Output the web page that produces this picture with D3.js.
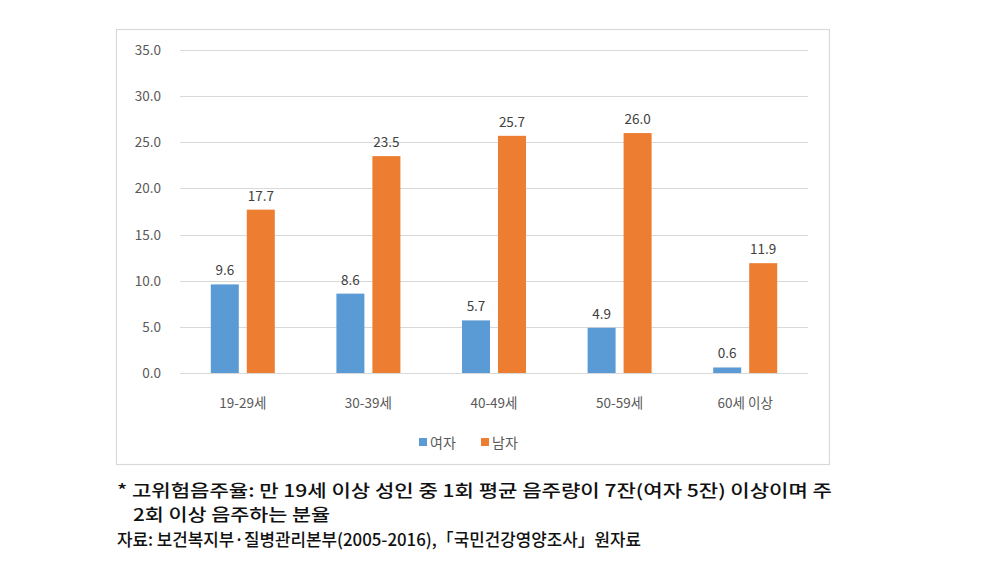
<!DOCTYPE html>
<html>
<head>
<meta charset="utf-8">
<script src="https://cdn.jsdelivr.net/npm/d3@7"></script>
<style>
  body { margin: 0; background: #fff; }
  svg text { font-family: "Noto Sans CJK KR", "Noto Sans", sans-serif; }
</style>
</head>
<body>
<svg id="chart" width="981" height="565"></svg>
<script>
// age groups and rates (%)
const ageGroups = ['19-29세', '30-39세', '40-49세', '50-59세', '60세 이상'];
const female = [9.6, 8.6, 5.7, 4.9, 0.6];
const male = [17.7, 23.5, 25.7, 26.0, 11.9];
const seriesNames = ['여자', '남자'];
const seriesColors = ['#5b9bd5', '#ed7d31'];
const yTicks = [0, 5, 10, 15, 20, 25, 30, 35];
const notes = [
  '* 고위험음주율: 만 19세 이상 성인 중 1회 평균 음주량이 7잔(여자 5잔) 이상이며 주',
  '2회 이상 음주하는 분율',
  '자료: 보건복지부·질병관리본부(2005-2016),「국민건강영양조사」원자료'
];

const svg = d3.select('#chart');

// outer chart frame
svg.append('rect')
  .attr('x', 116.5).attr('y', 29.5)
  .attr('width', 713).attr('height', 435)
  .attr('fill', 'none')
  .attr('stroke', '#d9d9d9')
  .attr('stroke-width', 1.2);

const plot = { left: 180, right: 808, top: 50, bottom: 373 };

const x = d3.scaleBand()
  .domain(ageGroups)
  .range([plot.left, plot.right]);

const y = d3.scaleLinear()
  .domain([0, 35])
  .range([plot.bottom, plot.top]);

// gridlines
svg.append('g')
  .selectAll('line')
  .data(yTicks)
  .enter().append('line')
  .attr('x1', plot.left).attr('x2', plot.right)
  .attr('y1', d => Math.round(y(d)) + 0.5)
  .attr('y2', d => Math.round(y(d)) + 0.5)
  .attr('stroke', '#d9d9d9')
  .attr('stroke-width', 1);

// y tick labels
svg.append('g')
  .selectAll('text')
  .data(yTicks)
  .enter().append('text')
  .attr('x', 161)
  .attr('y', d => y(d) + 5)
  .attr('text-anchor', 'end')
  .attr('font-size', 13.5)
  .attr('fill', '#595959')
  .text(d => d.toFixed(1));

// bars
const barW = 28;
const gap = 8;
const series = [female, male];

series.forEach((vals, si) => {
  const g = svg.append('g');
  const bx = (d, i) => x(ageGroups[i]) + x.bandwidth() / 2 + (si === 0 ? -gap / 2 - barW : gap / 2);
  g.selectAll('rect')
    .data(vals)
    .enter().append('rect')
    .attr('x', bx)
    .attr('y', d => y(d))
    .attr('width', barW)
    .attr('height', d => y(0) - y(d))
    .attr('fill', seriesColors[si]);

  g.selectAll('text')
    .data(vals)
    .enter().append('text')
    .attr('x', (d, i) => bx(d, i) + barW / 2)
    .attr('y', d => y(d) - 9)
    .attr('text-anchor', 'middle')
    .attr('font-size', 13.5)
    .attr('fill', '#404040')
    .text(d => d.toFixed(1));
});

// x labels
svg.append('g')
  .selectAll('text')
  .data(ageGroups)
  .enter().append('text')
  .attr('x', d => x(d) + x.bandwidth() / 2)
  .attr('y', 408)
  .attr('text-anchor', 'middle')
  .attr('font-size', 13.5)
  .attr('fill', '#595959')
  .text(d => d);

// legend
const legend = svg.append('g').attr('transform', 'translate(419,438)');
const legendX = [0, 62];
seriesNames.forEach((name, i) => {
  legend.append('rect')
    .attr('x', legendX[i]).attr('y', 0)
    .attr('width', 8).attr('height', 8)
    .attr('fill', seriesColors[i]);
  legend.append('text')
    .attr('x', legendX[i] + 11).attr('y', 10)
    .attr('font-size', 14)
    .attr('fill', '#595959')
    .text(name);
});

// footnotes
const noteX = [117, 133, 117];
const noteY = [497, 521, 546];
const noteW = [715, 197, 524];
svg.append('g')
  .selectAll('text')
  .data(notes)
  .enter().append('text')
  .attr('x', (d, i) => noteX[i])
  .attr('y', (d, i) => noteY[i])
  .attr('font-size', 17)
  .attr('font-weight', 500)
  .attr('fill', '#111')
  .attr('textLength', (d, i) => noteW[i])
  .attr('lengthAdjust', 'spacingAndGlyphs')
  .text(d => d);
</script>
</body>
</html>
